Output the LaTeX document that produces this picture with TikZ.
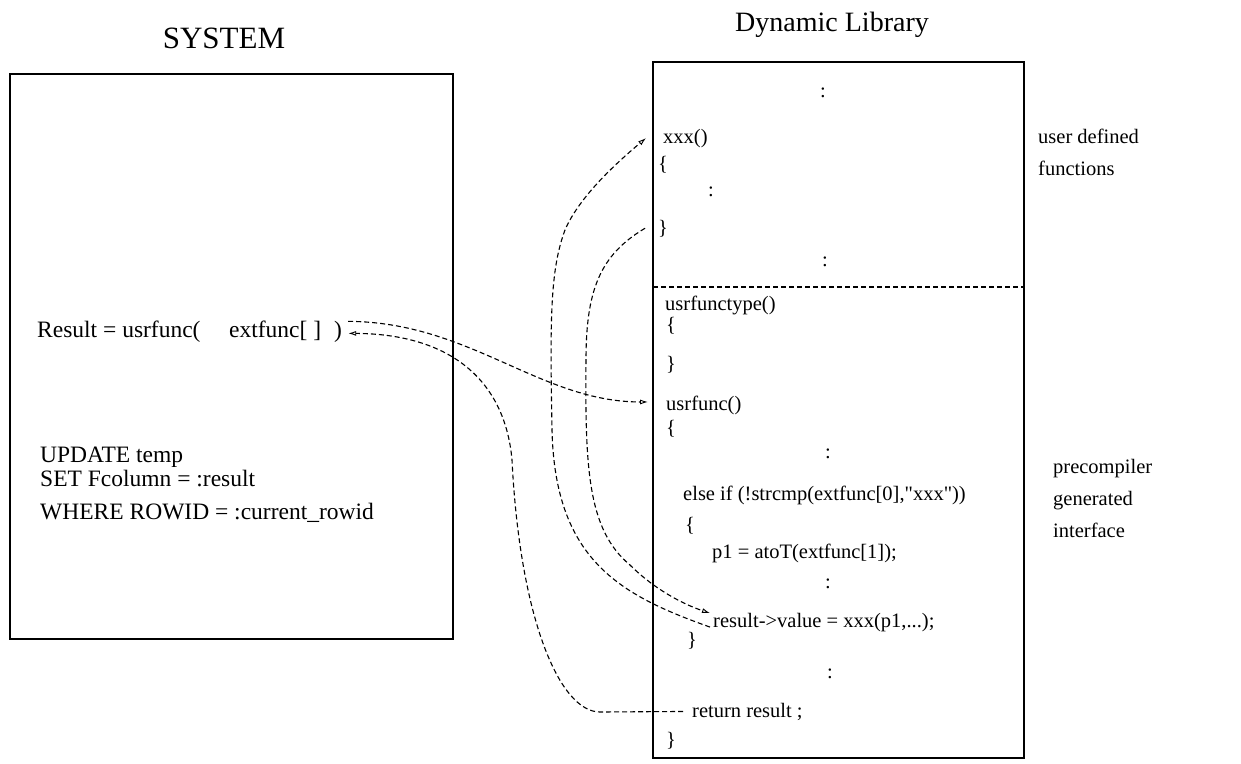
\documentclass[tikz,border=0pt]{standalone}
\usepackage{fontspec}
\setmainfont{Liberation Serif}
\usetikzlibrary{arrows.meta}

\newcommand{\codesize}{\fontsize{20.5}{24}\selectfont}
\newcommand{\sqlsize}{\fontsize{23.5}{27}\selectfont}

\tikzset{
  frame/.style={draw, line width=1.4pt},
  code/.style={anchor=base west, inner sep=0pt, font=\codesize},
  sql/.style={anchor=base west, inner sep=0pt, font=\sqlsize},
  dots/.style={anchor=base, inner sep=0pt, font=\codesize},
  note/.style={anchor=base west, inner sep=0pt, font=\codesize},
  heading/.style={anchor=base, inner sep=0pt},
  link/.style={line width=1.1pt, dash pattern=on 5pt off 3pt,
               -{Latex[open,length=8pt,width=5pt,line width=0.9pt]}},
  plainlink/.style={line width=1.1pt, dash pattern=on 5pt off 3pt},
}

\begin{document}
\begin{tikzpicture}[x=1pt,y=-1pt]
\useasboundingbox (0,0) rectangle (1241,763);

% headings
\node[heading, font=\fontsize{31}{36}\selectfont] (systitle) at (224,48) {SYSTEM};
\node[heading, font=\fontsize{28}{33}\selectfont] (libtitle) at (832,31) {Dynamic Library};

% the two frames
\draw[frame] (10,74) rectangle (453,639);
\draw[frame] (653,62) rectangle (1024,758);
\draw[plainlink, line width=1.2pt] (653,287) -- (1024,287);

% SYSTEM side
\node[sql] (res) at (37,337) {Result = usrfunc(};
\node[sql] (ext) at (229,337) {extfunc[ ]};
\node[sql] (paren) at (334,337) {)};
\node[sql] (upd) at (40,462) {UPDATE temp};
\node[sql] (setl) at (40,486) {SET Fcolumn = :result};
\node[sql] (wher) at (40,519) {WHERE ROWID = :current\_rowid};

% user defined functions
\node[dots] (d1) at (823,97) {:};
\node[code] (xxx) at (663,143) {xxx()};
\node[code] (xopen) at (658,170) {\{};
\node[dots] (d2) at (711,196) {:};
\node[code] (xclose) at (658,234) {\}};
\node[dots] (d3) at (825,266) {:};

% precompiler generated interface
\node[code] (utype) at (665,310) {usrfunctype()};
\node[code] (topen) at (666,331) {\{};
\node[code] (tclose) at (666,370) {\}};
\node[code] (ufunc) at (666,410) {usrfunc()};
\node[code] (fopen) at (666,434) {\{};
\node[dots] (d4) at (828,458) {:};
\node[code] (elif) at (683,500) {else if (!strcmp(extfunc[0],\textquotedbl xxx\textquotedbl))};
\node[code] (bopen) at (685,531) {\{};
\node[code] (pone) at (712,558) {p1 = atoT(extfunc[1]);};
\node[dots] (d5) at (828,588) {:};
\node[code] (resval) at (713,627) {result->value = xxx(p1,...);};
\node[code] (bclose) at (687,646) {\}};
\node[dots] (d6) at (830,678) {:};
\node[code] (ret) at (692,717) {return result ;};
\node[code] (fclose) at (666,746) {\}};

% side notes
\node[note] (ud1) at (1038,143) {user defined};
\node[note] (ud2) at (1038,175) {functions};
\node[note] (pc1) at (1053,473) {precompiler};
\node[note] (pc2) at (1053,505) {generated};
\node[note] (pc3) at (1053,537) {interface};

% call of the interface function
\draw[link] ([shift={(6,-10)}]paren.east)
  .. controls (470,322) and (540,402) .. ([shift={(-18,-3)}]ufunc.west);

% returned result
\draw[link] ([xshift=-9]ret.west) -- (600,712)
  .. controls (560,712) and (520,620) .. (512,460)
  .. controls (505,380) and (450,334) .. ([shift={(6,2)}]paren.east);

% call of the user function
\draw[link] ([shift={(-3,5)}]resval.west)
  .. controls (620,595) and (555,560) .. (552,430)
  .. controls (550,320) and (550,270) .. (565,230)
  .. controls (580,195) and (620,160) .. ([xshift=-17]xxx.west);

% return from the user function
\draw[link] ([xshift=-13]xclose.west)
  .. controls (600,255) and (586,290) .. (586,360)
  .. controls (585,470) and (588,530) .. (630,565)
  .. controls (655,590) and (685,605) .. ([shift={(-3,-9)}]resval.west);
\end{tikzpicture}
\end{document}
